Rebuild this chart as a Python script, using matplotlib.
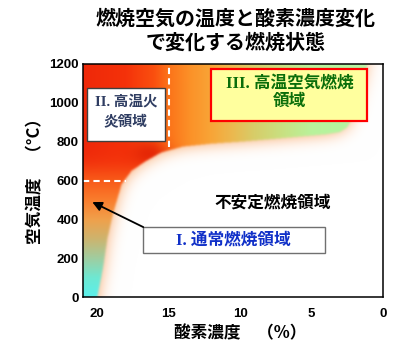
import numpy as np
import matplotlib
matplotlib.use('Agg')
import matplotlib.pyplot as plt
from matplotlib.path import Path
from matplotlib.patches import Rectangle

CJK = 'Noto Sans CJK JP'
SERIF_CJK = ['Liberation Serif', 'Noto Sans CJK JP']

title_lines = ['燃焼空気の温度と酸素濃度変化', 'で変化する燃焼状態']
xlabel_text = '酸素濃度　（%）'
ylabel_text = '空気温度　（°C）'
x_ticks = [20, 15, 10, 5, 0]
y_ticks = [0, 200, 400, 600, 800, 1000, 1200]
x_minor = [15, 10, 5]

# upper boundary of the unstable-combustion (white) region: O2 (%) vs temperature (°C)
boundary_o2 = [20.0, 19.6, 19.3, 18.9, 18.3, 17.6, 16.6, 15.5, 14.0, 12.0, 10.0,
               8.0, 6.0, 4.0, 3.0, 2.5, 2.1, 1.8, 1.45, 1.1, 1.0]
boundary_T = [0, 150, 300, 430, 580, 650, 700, 745, 775, 790, 800,
              812, 825, 838, 850, 875, 930, 1020, 1110, 1200, 1300]

# colour field anchors (high temperature: along O2; low O2-rich strip: along T)
top_o2 = [0, 1.5, 3, 5, 7, 9, 10.5, 12, 13.5, 15, 16, 18, 21]
top_rgb = [(185, 245, 165), (185, 245, 165), (180, 245, 160), (185, 242, 155),
           (200, 225, 130), (215, 205, 105), (235, 185, 80), (248, 165, 55),
           (252, 145, 40), (252, 115, 25), (250, 80, 15), (245, 50, 10), (238, 40, 10)]
left_T = [0, 100, 200, 300, 400, 500, 600, 700, 800]
left_rgb = [(90, 240, 235), (110, 232, 210), (160, 205, 160), (205, 180, 110),
            (240, 160, 75), (250, 125, 45), (248, 90, 25), (245, 60, 15), (240, 45, 10)]

# regions
label_II = ['II. 高温火', '炎領域']
label_III = ['III. 高温空気燃焼', '領域']
label_I = 'I. 通常燃焼領域'
label_unstable = '不安定燃焼領域'


def gblur(a, sigma):
    r = int(3 * sigma) + 1
    k = np.exp(-0.5 * (np.arange(-r, r + 1) / sigma) ** 2)
    k /= k.sum()
    p = np.pad(a, r, mode='edge')
    p = np.apply_along_axis(lambda v: np.convolve(v, k, mode='same'), 0, p)
    p = np.apply_along_axis(lambda v: np.convolve(v, k, mode='same'), 1, p)
    return p[r:-r, r:-r]


fig = plt.figure(figsize=(4.0, 3.46), dpi=100)
ax = fig.add_axes([83 / 400, 1 - 297 / 346, 300 / 400, 233 / 346])
XMAX, YMAX = 21.0, 1200.0

# background colour field
nx, ny = 600, 466
o2 = XMAX - (np.arange(nx) + 0.5) / nx * XMAX
T = YMAX - (np.arange(ny) + 0.5) / ny * YMAX
O2, TT = np.meshgrid(o2, T)

top = np.stack([np.interp(O2, top_o2, [c[i] for c in top_rgb]) for i in range(3)], -1) / 255
left = np.stack([np.interp(TT, left_T, [c[i] for c in left_rgb]) for i in range(3)], -1) / 255
s = np.clip((TT - 600) / 200, 0, 1)
s = (s * s * (3 - 2 * s))[..., None]
col = left * (1 - s) + top * s
g = 0.55 * np.exp(-0.5 * ((O2 - 16.3) / 0.9) ** 2 - 0.5 * ((TT - 740) / 45) ** 2)
dark = np.array([215, 15, 0]) / 255
col = col * (1 - g[..., None]) + dark * g[..., None]

poly = list(zip(boundary_o2, boundary_T)) + [(-5, 1300), (-5, -200), (20.05, -200)]
path = Path(poly)
W = path.contains_points(np.column_stack([O2.ravel(), TT.ravel()])).reshape(ny, nx).astype(float)
B = gblur(W, 18)
peach_amt = np.clip(2 * (1 - B), 0, 1) ** 1.2
peach = np.array([252, 212, 182]) / 255
white_col = np.ones(3) * (1 - peach_amt[..., None]) + peach * peach_amt[..., None]
Ws = gblur(W, 2.0)[..., None]
img = col * (1 - Ws) + white_col * Ws

ax.imshow(np.clip(img, 0, 1), extent=(XMAX, 0, 0, YMAX), aspect='auto',
          interpolation='bilinear', zorder=0)
ax.set_xlim(XMAX, 0)
ax.set_ylim(0, YMAX)

# dashed guides
ax.plot([15, 15], [770, 1200], color='white', lw=1.5, ls=(0, (3, 2)), zorder=2)
ax.plot([XMAX, 18.0], [600, 600], color='white', lw=1.5, ls=(0, (3, 2)), zorder=2)

# Box II
ax.add_patch(Rectangle((15.24, 803), 20.7 - 15.24, 1076 - 803, facecolor='white',
                       edgecolor='#404040', lw=1.0, zorder=3))
ax.text(18.0, 1004, label_II[0], ha='center', va='center', fontsize=10.5,
        weight='bold', color='#2f3d62', family=SERIF_CJK, zorder=4)
ax.text(18.0, 906, label_II[1], ha='center', va='center', fontsize=10.5,
        weight='bold', color='#2f3d62', family=SERIF_CJK, zorder=4)

# Box III
ax.add_patch(Rectangle((1.12, 906), 12.03 - 1.12, 1174 - 906, facecolor='#ffff9e',
                       edgecolor='#ff0000', lw=1.6, zorder=3))
ax.text(6.54, 1102, label_III[0], ha='center', va='center', fontsize=12,
        weight='bold', color='#0a6e0a', family=SERIF_CJK, zorder=4)
ax.text(6.54, 1004, label_III[1], ha='center', va='center', fontsize=12,
        weight='bold', color='#0a6e0a', family=SERIF_CJK, zorder=4)

# Box I
ax.add_patch(Rectangle((4.06, 227), 16.78 - 4.06, 360 - 227, facecolor='white',
                       edgecolor='#707070', lw=1.0, zorder=3))
ax.text(10.45, 293, label_I, ha='center', va='center', fontsize=12,
        weight='bold', color='#1030c8', family=SERIF_CJK, zorder=4)

ax.annotate('', xy=(20.35, 489), xytext=(16.78, 360),
            arrowprops=dict(arrowstyle='-|>', color='black', lw=1.3,
                            mutation_scale=14, shrinkA=0, shrinkB=0), zorder=5)

ax.text(7.76, 489, label_unstable, ha='center', va='center', fontsize=12,
        weight='bold', color='black', family=CJK, zorder=4)

# axes styling
for sp in ax.spines.values():
    sp.set_linewidth(1.1)
    sp.set_color('black')
    sp.set_zorder(6)
ax.set_xticks(x_ticks)
ax.set_xticklabels([str(v) for v in x_ticks])
ax.set_yticks(y_ticks)
ax.set_yticklabels([str(v) for v in y_ticks])
ax.set_xticks(x_minor, minor=True)
ax.tick_params(axis='both', which='major', length=0, labelsize=9.5)
ax.tick_params(axis='x', which='major', pad=8)
ax.tick_params(axis='y', which='major', pad=3)
ax.tick_params(axis='x', which='minor', direction='in', length=4, width=1.0, color='black')
for lab in ax.get_xticklabels() + ax.get_yticklabels():
    lab.set_fontweight('bold')
    lab.set_family('Liberation Sans')

ax.set_xlabel(xlabel_text, fontsize=12, weight='bold', family=CJK, va='center', ha='center')
ax.xaxis.set_label_coords((240 - 83) / 300, (297 - 333) / 233)
ax.set_ylabel(ylabel_text, fontsize=12, weight='bold', family=CJK, va='center', ha='center')
ax.yaxis.set_label_coords((35 - 83) / 300, (297 - 177.5) / 233)

fig.text(0.59, 1 - 18 / 346, title_lines[0], ha='center', va='center', fontsize=14.4,
         weight='bold', family=CJK)
fig.text(0.59, 1 - 42 / 346, title_lines[1], ha='center', va='center', fontsize=14.4,
         weight='bold', family=CJK)

fig.savefig('out.png', dpi=100)
